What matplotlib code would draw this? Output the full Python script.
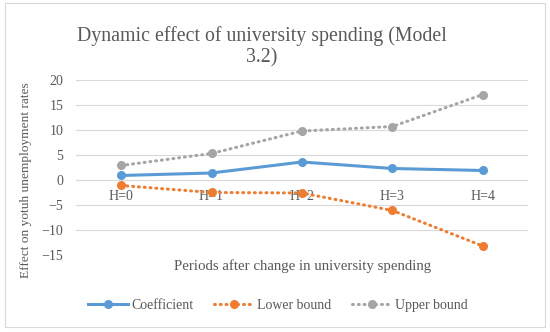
import matplotlib.pyplot as plt
from matplotlib.patches import Rectangle

# data
periods = ['H=0', 'H=1', 'H=2', 'H=3', 'H=4']
coefficient = [0.9, 1.4, 3.6, 2.3, 1.9]
lower_bound = [-1.1, -2.5, -2.6, -6.1, -13.2]
upper_bound = [2.9, 5.3, 9.8, 10.7, 17.1]

plt.rcParams['font.family'] = ['Liberation Serif', 'DejaVu Serif']
text_col = '#595959'

fig = plt.figure(figsize=(5.5, 3.32), dpi=100)
fig.patches.append(Rectangle((0.009, 0.015), 0.982, 0.975, transform=fig.transFigure,
                             fill=False, edgecolor='#d9d9d9', linewidth=0.8))
ax = fig.add_axes([0.138, 0.232, 0.822, 0.527])

x = list(range(len(periods)))
ax.plot(x, coefficient, color='#5B9BD5', linewidth=2.2, marker='o', markersize=5.5,
        label='Coefficient', zorder=3)
ax.plot(x, lower_bound, color='#ED7D31', linewidth=2.2, linestyle=(0, (0.3, 1.6)),
        dash_capstyle='round', marker='o', markersize=5.5, label='Lower bound', zorder=3)
ax.plot(x, upper_bound, color='#A5A5A5', linewidth=2.2, linestyle=(0, (0.3, 1.6)),
        dash_capstyle='round', marker='o', markersize=5.5, label='Upper bound', zorder=3)

ax.set_xlim(-0.5, len(periods) - 0.5)
ax.set_ylim(-15, 20)
ax.set_yticks(range(-15, 21, 5))
ax.set_xticks(x)
ax.set_xticklabels(periods)
ax.grid(axis='y', color='#d9d9d9', linewidth=0.8)
ax.set_axisbelow(True)
for s in ax.spines.values():
    s.set_visible(False)
ax.spines['bottom'].set_position(('data', 0))
ax.tick_params(axis='both', length=0, labelsize=10, colors=text_col)
ax.tick_params(axis='x', pad=7)
ax.tick_params(axis='y', pad=9)

ax.set_ylabel('Effect on yotuh unemployment rates', fontsize=9.6, color=text_col)
ax.yaxis.set_label_coords(-0.098, 0.43)
fig.text(0.55, 0.198, 'Periods after change in university spending',
         ha='center', va='center', fontsize=10.7, color=text_col)

fig.text(0.476, 0.86, 'Dynamic effect of university spending (Model\n3.2)',
         ha='center', va='center', fontsize=14.3, color=text_col, linespacing=1.16)

ax.legend(loc='center', bbox_to_anchor=(0.447, -0.286), ncol=3, frameon=False,
          fontsize=10, labelcolor=text_col, handlelength=2.9, columnspacing=1.5,
          handletextpad=0.2)

fig.savefig('out.png', dpi=100)
